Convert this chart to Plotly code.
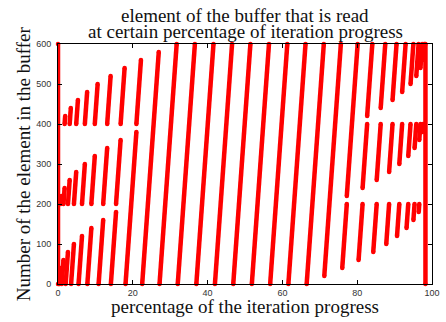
import plotly.graph_objects as go

# Read segments: each one is a straight stretch of buffer elements read in order.
# (x0, y0) -> (x1, y1), x in % of iteration progress, y = buffer element index.
seg_x0 = [
    0.00,
    0.20,
    0.45, 0.76,
    1.00, 1.46, 1.77,
    2.05, 2.66, 3.12,
    3.50, 4.26, 4.87,
    5.50, 6.42, 7.18,
    7.85, 8.92, 9.84,
    10.86, 12.08, 13.15,
    14.14, 15.52, 16.74,
    18.06, 20.96,
    22.51,
    27.15,
    32.02, 36.99, 41.96, 46.86, 51.83, 56.73, 61.60, 66.49,
    71.20,
    76.00, 77.22,
    80.37, 81.44, 82.66,
    84.29, 85.21, 86.28,
    87.77, 88.53, 89.45,
    90.65, 91.26, 92.02,
    93.19, 93.65, 94.26,
    95.03, 95.34, 95.80,
    96.45, 96.60, 96.91,
    97.42, 97.57,
    97.93,
    98.25,
]
seg_x1 = [
    0.00,
    0.35,
    0.76, 0.91,
    1.46, 1.77, 1.92,
    2.66, 3.12, 3.43,
    4.26, 4.87, 5.33,
    6.42, 7.18, 7.79,
    8.92, 9.84, 10.60,
    12.08, 13.15, 14.07,
    15.52, 16.74, 17.81,
    20.96, 22.18,
    26.94,
    31.73,
    36.60, 41.57, 46.54, 51.44, 56.41, 61.31, 66.18, 71.07,
    75.63,
    77.22, 80.12,
    81.44, 82.66, 84.04,
    85.21, 86.28, 87.50,
    88.53, 89.45, 90.52,
    91.26, 92.02, 92.94,
    93.65, 94.26, 95.02,
    95.34, 95.80, 96.41,
    96.60, 96.91, 97.37,
    97.57, 97.88,
    98.08,
    98.25,
]
seg_y0 = [
    0,
    0,
    0, 200,
    0, 200, 400,
    0, 200, 400,
    0, 200, 400,
    0, 200, 400,
    0, 200, 400,
    0, 200, 400,
    0, 200, 400,
    0, 400,
    0,
    0,
    0, 0, 0, 0, 0, 0, 0, 0,
    20,
    40, 220,
    60, 240, 420,
    80, 260, 440,
    100, 280, 460,
    120, 300, 480,
    140, 320, 500,
    160, 340, 520,
    180, 360, 540,
    380, 560,
    580,
    0,
]
seg_y1 = [
    600,
    20,
    40, 220,
    60, 240, 420,
    80, 260, 440,
    100, 280, 460,
    120, 300, 480,
    140, 320, 500,
    160, 340, 520,
    180, 360, 540,
    380, 560,
    580,
    600,
    600, 600, 600, 600, 600, 600, 600, 600,
    600,
    200, 600,
    200, 400, 600,
    200, 400, 600,
    200, 400, 600,
    200, 400, 600,
    200, 400, 600,
    200, 400, 600,
    200, 400, 600,
    400, 600,
    600,
    600,
]

x_ticks = [0, 20, 40, 60, 80, 100]
y_ticks = [0, 100, 200, 300, 400, 500, 600]

xs, ys = [], []
for a, b, c, d in zip(seg_x0, seg_x1, seg_y0, seg_y1):
    xs += [a, b, None]
    ys += [c, d, None]

RED = "#ff0000"
fig = go.Figure()
fig.add_trace(go.Scatter(
    x=xs, y=ys, mode="lines+markers",
    line=dict(color=RED, width=4.5),
    marker=dict(color=RED, size=4.5),
    hoverinfo="skip", showlegend=False, cliponaxis=False,
))

axis_common = dict(
    showline=True, linecolor="black", linewidth=1, mirror="ticks",
    ticks="inside", ticklen=4, tickwidth=1, tickcolor="black",
    showgrid=False, zeroline=False, ticklabeloverflow="allow",
    tickfont=dict(family="Liberation Sans", size=9, color="#333"),
)
fig.update_xaxes(range=[0, 100], tickvals=x_ticks, ticklabelstandoff=0, **axis_common)
fig.update_yaxes(range=[0, 600], tickvals=y_ticks, ticklabelstandoff=4, **axis_common)

serif = dict(family="Liberation Serif", size=19, color="#111")
fig.add_annotation(text="element of the buffer that is read", xref="paper", yref="paper",
                   x=0.5, y=1.1208, xanchor="center", yanchor="middle", showarrow=False, font=serif)
fig.add_annotation(text="at certain percentage of iteration progress", xref="paper", yref="paper",
                   x=0.5, y=1.0517, xanchor="center", yanchor="middle", showarrow=False, font=serif)
fig.add_annotation(text="percentage of the iteration progress", xref="paper", yref="paper",
                   x=0.5, y=-0.0917, xanchor="center", yanchor="middle", showarrow=False, font=serif)
fig.add_annotation(text="Number of the element in the buffer", xref="paper", yref="paper",
                   x=-0.0929, y=0.5, xanchor="center", yanchor="middle", textangle=-90,
                   showarrow=False, font=serif)

fig.update_layout(
    width=446, height=322,
    margin=dict(l=58, r=6, t=44, b=38),
    paper_bgcolor="white", plot_bgcolor="white",
)
fig.write_html("out.html")
